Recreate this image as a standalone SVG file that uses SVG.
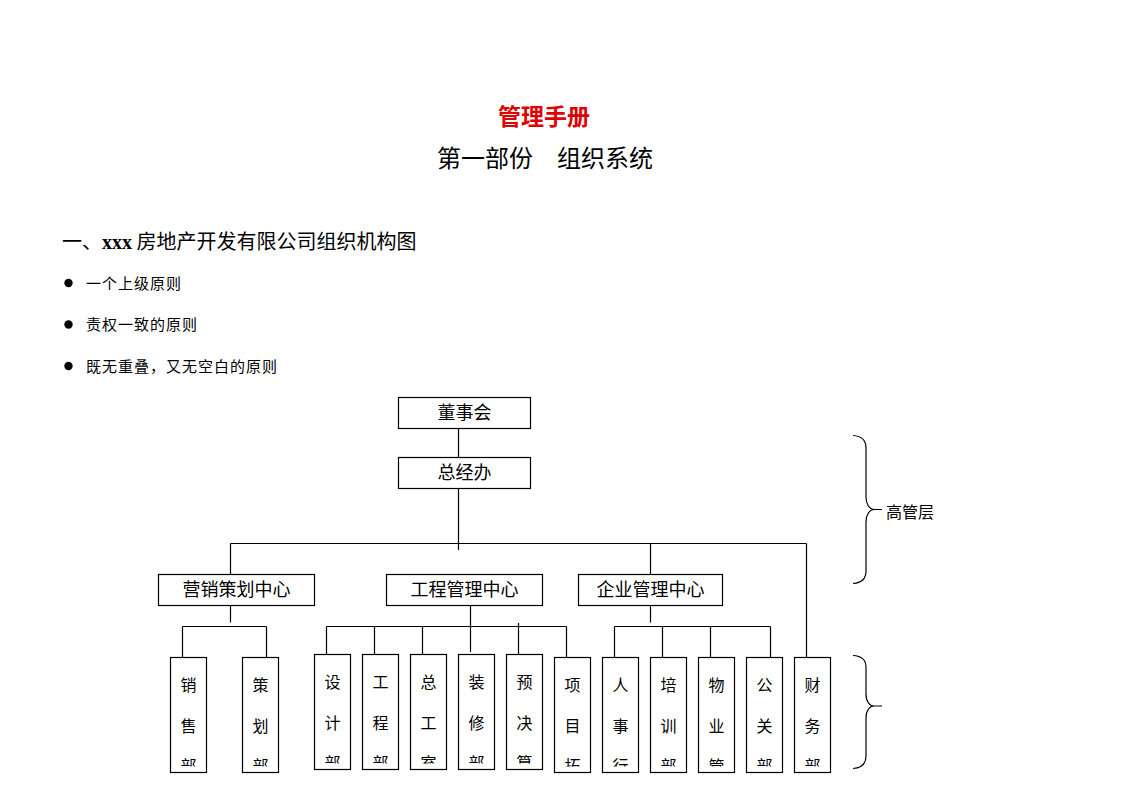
<svg xmlns="http://www.w3.org/2000/svg" width="1122" height="793" viewBox="0 0 1122 793">
<style>
text{font-family:"Noto Sans CJK SC","Liberation Sans",sans-serif;fill:#000}
.box{fill:#fff;stroke:#000;stroke-width:1.2}
.lbl{font-size:18px;text-anchor:middle}
.v{font-size:16px;text-anchor:middle}
.ln{fill:none;stroke:#000;stroke-width:1.2}
.br{fill:none;stroke:#000;stroke-width:1.2}
.bul{font-size:15px;letter-spacing:1px}
</style>
<rect width="1122" height="793" fill="#fff"/>
<g id="titles">
<text x="544" y="125" style="font-size:23px;font-weight:bold;fill:#e00000" text-anchor="middle">管理手册</text>
<text x="545" y="167" style="font-size:24px" text-anchor="middle">第一部份　组织系统</text>
<text x="62" y="249" style="font-size:20px">一、<tspan style="font-family:'Liberation Serif',serif;font-weight:bold">xxx</tspan> 房地产开发有限公司组织机构图</text>
<circle cx="68.5" cy="283" r="4.2"/>
<circle cx="68.5" cy="324.5" r="4.2"/>
<circle cx="68.5" cy="366" r="4.2"/>
<text class="bul" x="86" y="288.5">一个上级原则</text>
<text class="bul" x="86" y="330">责权一致的原则</text>
<text class="bul" x="86" y="371.5">既无重叠，又无空白的原则</text>
</g>
<g id="connectors">
<path class="ln" d="M458.5 428V457.5M458.5 488.5V550M230.5 543.5H806.5M230.5 543.5V574M650.5 543.5V574M806.5 543.5V657"/>
<path class="ln" d="M230.5 605V622.5M182.5 626.5H266.5M182.5 626.5V657M266.5 626.5V657"/>
<path class="ln" d="M470.5 605V652M326.5 626.5H566.5M326.5 626.5V654M374.5 626.5V656M422.5 626.5V654M518.5 623V654M566.5 626.5V657"/>
<path class="ln" d="M650.5 605V622.5M614.5 626.5H770.5M614.5 626.5V657M662.5 626.5V657M710.5 626.5V657M770.5 626.5V657"/>
</g>
<g id="n-dongshihui"><rect class="box" x="398.5" y="397.5" width="132" height="31"/><text class="lbl" x="464.5" y="419">董事会</text></g>
<g id="n-zongjingban"><rect class="box" x="398.5" y="457.5" width="132" height="31"/><text class="lbl" x="464.5" y="479">总经办</text></g>
<g id="n-yingxiao"><rect class="box" x="158.5" y="574.5" width="156" height="31"/><text class="lbl" x="236.5" y="596">营销策划中心</text></g>
<g id="n-gongcheng"><rect class="box" x="386.5" y="574.5" width="156" height="31"/><text class="lbl" x="464.5" y="596">工程管理中心</text></g>
<g id="n-qiye"><rect class="box" x="578.5" y="574.5" width="144" height="31"/><text class="lbl" x="650.5" y="596">企业管理中心</text></g>

<g id="n-xiaoshou"><rect class="box" x="170.5" y="657.5" width="36" height="115"/><svg x="170.5" y="657.5" width="36" height="109"><text class="v" x="18" y="33">销</text><text class="v" x="18" y="74">售</text><text class="v" x="18" y="114.5">部</text></svg></g>
<g id="n-cehua"><rect class="box" x="242.5" y="657.5" width="36" height="115"/><svg x="242.5" y="657.5" width="36" height="109"><text class="v" x="18" y="33">策</text><text class="v" x="18" y="74">划</text><text class="v" x="18" y="114.5">部</text></svg></g>

<g id="n-sheji"><rect class="box" x="314.5" y="654.5" width="36" height="115"/><svg x="314.5" y="654.5" width="36" height="109"><text class="v" x="18" y="33">设</text><text class="v" x="18" y="74">计</text><text class="v" x="18" y="114.5">部</text></svg></g>
<g id="n-gongchengbu"><rect class="box" x="362.5" y="654.5" width="36" height="115"/><svg x="362.5" y="654.5" width="36" height="109"><text class="v" x="18" y="33">工</text><text class="v" x="18" y="74">程</text><text class="v" x="18" y="114.5">部</text></svg></g>
<g id="n-zonggong"><rect class="box" x="410.5" y="654.5" width="36" height="115"/><svg x="410.5" y="654.5" width="36" height="109"><text class="v" x="18" y="33">总</text><text class="v" x="18" y="74">工</text><text class="v" x="18" y="114.5">室</text></svg></g>
<g id="n-zhuangxiu"><rect class="box" x="458.5" y="654.5" width="36" height="115"/><svg x="458.5" y="654.5" width="36" height="109"><text class="v" x="18" y="33">装</text><text class="v" x="18" y="74">修</text><text class="v" x="18" y="114.5">部</text></svg></g>
<g id="n-yujuesuan"><rect class="box" x="506.5" y="654.5" width="36" height="115"/><svg x="506.5" y="654.5" width="36" height="109"><text class="v" x="18" y="33">预</text><text class="v" x="18" y="74">决</text><text class="v" x="18" y="114.5">算</text></svg></g>
<g id="n-xiangmu"><rect class="box" x="554.5" y="657.5" width="36" height="115"/><svg x="554.5" y="657.5" width="36" height="109"><text class="v" x="18" y="33">项</text><text class="v" x="18" y="74">目</text><text class="v" x="18" y="114.5">拓</text></svg></g>

<g id="n-renshi"><rect class="box" x="602.5" y="657.5" width="36" height="115"/><svg x="602.5" y="657.5" width="36" height="109"><text class="v" x="18" y="33">人</text><text class="v" x="18" y="74">事</text><text class="v" x="18" y="114.5">行</text></svg></g>
<g id="n-peixun"><rect class="box" x="650.5" y="657.5" width="36" height="115"/><svg x="650.5" y="657.5" width="36" height="109"><text class="v" x="18" y="33">培</text><text class="v" x="18" y="74">训</text><text class="v" x="18" y="114.5">部</text></svg></g>
<g id="n-wuye"><rect class="box" x="698.5" y="657.5" width="36" height="115"/><svg x="698.5" y="657.5" width="36" height="109"><text class="v" x="18" y="33">物</text><text class="v" x="18" y="74">业</text><text class="v" x="18" y="114.5">管</text></svg></g>
<g id="n-gongguan"><rect class="box" x="746.5" y="657.5" width="36" height="115"/><svg x="746.5" y="657.5" width="36" height="109"><text class="v" x="18" y="33">公</text><text class="v" x="18" y="74">关</text><text class="v" x="18" y="114.5">部</text></svg></g>
<g id="n-caiwu"><rect class="box" x="794.5" y="657.5" width="36" height="115"/><svg x="794.5" y="657.5" width="36" height="109"><text class="v" x="18" y="33">财</text><text class="v" x="18" y="74">务</text><text class="v" x="18" y="114.5">部</text></svg></g>

<g id="brace-top">
<path class="br" d="M853 435.5C861 436 866 440 866 448V497C866 505 870 509.5 874 509.5H882M874 509.5C870 509.5 866 514 866 522V571C866 579 861 583 853 583.5"/>
<text x="886" y="518" style="font-size:16px">高管层</text>
</g>
<g id="brace-bottom">
<path class="br" d="M853 655.5C861 656 866 659 866 667V694C866 702 870 706 874 706H882M874 706C870 706 866 710 866 718V756C866 764 861 768 853 768.5"/>
</g>
</svg>
